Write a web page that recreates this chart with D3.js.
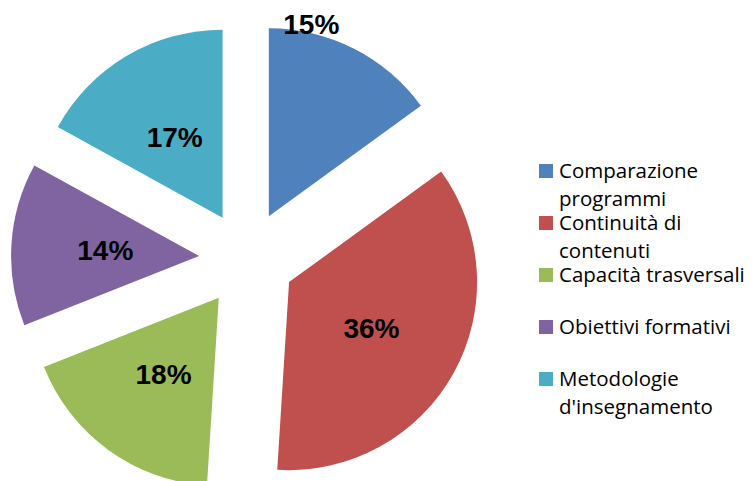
<!DOCTYPE html>
<html>
<head>
<meta charset="utf-8">
<script src="https://cdn.jsdelivr.net/npm/d3@7"></script>
<style>
  body { margin: 0; background: #fff; }
  svg { display: block; }
</style>
</head>
<body>
<div id="chart"></div>
<script>
const categories = [
  ["Comparazione", "programmi"],
  ["Continuità di", "contenuti"],
  ["Capacità trasversali"],
  ["Obiettivi formativi"],
  ["Metodologie", "d'insegnamento"]
];
const values = [15, 36, 18, 14, 17];
const colors = ["#4F81BD", "#C0504D", "#9BBB59", "#8064A2", "#4BACC6"];

const width = 753;
const height = 481;
const cx = 247, cy = 259;
const radius = 188;
const explode = 48;

const svg = d3.select("#chart").append("svg")
  .attr("width", width)
  .attr("height", height);

const pie = d3.pie().sort(null).value(d => d)(values);
const total = d3.sum(values);
const arc = d3.arc().innerRadius(0).outerRadius(radius);

const pieG = svg.append("g").attr("transform", `translate(${cx},${cy})`);

const slices = pieG.selectAll("g.slice").data(pie).join("g")
  .attr("class", "slice")
  .attr("transform", d => {
    const [x, y] = d3.pointRadial((d.startAngle + d.endAngle) / 2, explode);
    return `translate(${x},${y})`;
  });

slices.append("path")
  .attr("d", arc)
  .attr("fill", (d, i) => colors[i]);

// labels: centroid for most, the first one sits at the outer top edge (like excel best fit)
slices.append("text")
  .attr("transform", (d, i) => {
    let p;
    if (i === 0) p = d3.pointRadial(d.startAngle + 0.23 * (d.endAngle - d.startAngle), radius * 1.05);
    else p = arc.centroid(d);
    return `translate(${p[0]},${p[1]})`;
  })
  .attr("dy", "0.36em")
  .attr("text-anchor", "middle")
  .style("font-family", "Liberation Sans, Arial, sans-serif")
  .style("font-weight", "bold")
  .style("font-size", "28px")
  .style("fill", "#000")
  .text(d => Math.round(d.value / total * 100) + "%");

// legend
const legendY = d3.scalePoint().domain(d3.range(categories.length)).range([178, 386]);
const legendX = 539;
const legend = svg.append("g");
const items = legend.selectAll("g").data(categories).join("g")
  .attr("transform", (d, i) => `translate(${legendX},${legendY(i)})`);

items.append("rect")
  .attr("x", 0).attr("y", -14)
  .attr("width", 14).attr("height", 14)
  .attr("fill", (d, i) => colors[i]);

items.append("text")
  .attr("x", 20)
  .style("font-family", "Open Sans, sans-serif")
  .style("font-size", "20.5px")
  .style("fill", "#000")
  .selectAll("tspan").data(d => d).join("tspan")
  .attr("x", 20)
  .attr("y", (d, j) => j * 28)
  .text(d => d);
</script>
</body>
</html>
